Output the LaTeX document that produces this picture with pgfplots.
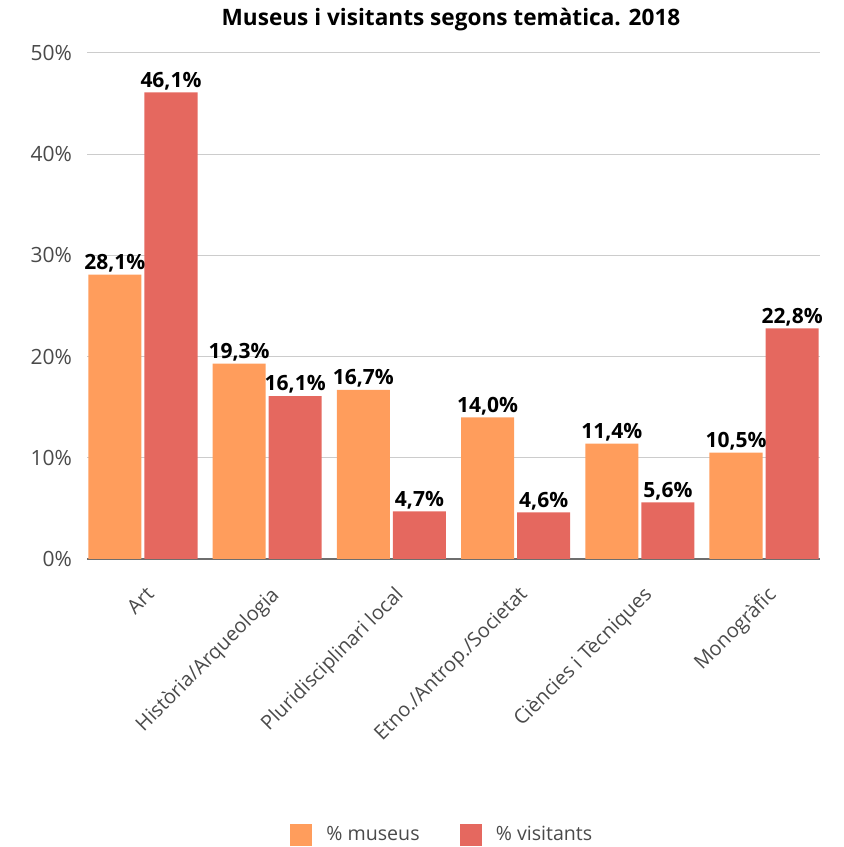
\documentclass[border=0pt]{standalone}
\usepackage{pgfplots}
\pgfplotsset{compat=1.18}
\usepackage{fontspec}
\setmainfont{Open Sans}

\definecolor{museus}{HTML}{FF9D5C}
\definecolor{visitants}{HTML}{E5685F}
\definecolor{gridgray}{HTML}{CCCCCC}
\definecolor{textgray}{HTML}{4A4A4A}

\begin{document}
\begin{tikzpicture}
\useasboundingbox (0pt,0pt) rectangle (421.5pt,423.5pt);
\node[font=\bfseries\fontsize{11.3}{13}\selectfont] at (225.5pt,413.5pt) {Museus i visitants segons temàtica. 2018};
\begin{axis}[
  at={(43.5pt,144pt)}, anchor=south west,
  scale only axis, width=366.5pt, height=253pt,
  ybar, bar width=0.427,
  xmin=-0.45, xmax=5.45, ymin=0, ymax=50,
  xtick=data,
  xticklabels={Art, Història/Arqueologia, Pluridisciplinari local, Etno./Antrop./Societat, Ciències i Tècniques, Monogràfic},
  xticklabel style={rotate=45, anchor=north east, font=\fontsize{10}{12}\selectfont, text=textgray, xshift=-2pt, yshift=-3.5pt},
  major x tick style={draw=none},
  ytick={0,10,...,50},
  yticklabel={\pgfmathprintnumber{\tick}\%},
  yticklabel style={font=\fontsize{10.5}{12}\selectfont, text=textgray, xshift=-4pt},
  /pgf/number format/assume math mode=true,
  major y tick style={draw=none},
  ymajorgrids, grid style={gridgray, line width=0.5pt},
  axis x line*=bottom, axis y line*=left,
  y axis line style={draw=none},
  x axis line style={draw=textgray!80, line width=0.6pt, -},
  every axis plot/.append style={draw=none},
  nodes near coords={\pgfmathprintnumber[fixed, fixed zerofill, precision=1, use comma]{\pgfplotspointmeta}\%},
  nodes near coords style={font=\bfseries\fontsize{10.5}{12}\selectfont, text=black, inner sep=1pt, anchor=south},
  legend style={at={(0.486,-0.545)}, anchor=center, draw=none, fill=none,
    font=\fontsize{9.8}{11}\selectfont, text=textgray, legend columns=2,
    /tikz/every even column/.append style={column sep=18pt}},
  legend image code/.code={\fill[#1] (0pt,-5.5pt) rectangle (11pt,5.5pt);},
  clip=false,
]
\addplot+[bar shift=-0.226, fill=museus] coordinates {
  (0,28.1) (1,19.3) (2,16.7) (3,14.0) (4,11.4) (5,10.5)
};
\addplot+[bar shift=0.226, fill=visitants] coordinates {
  (0,46.1) (1,16.1) (2,4.7) (3,4.6) (4,5.6) (5,22.8)
};
\legend{\ \ \% museus, \ \ \% visitants}
\end{axis}
\end{tikzpicture}
\end{document}
